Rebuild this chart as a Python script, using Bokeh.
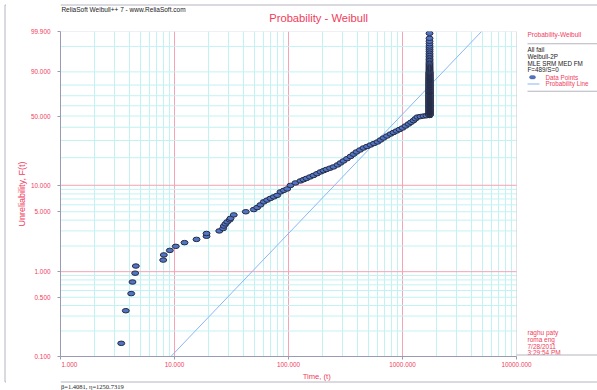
import numpy as np
from bokeh.plotting import figure
from bokeh.layouts import row, column
from bokeh.models import (FixedTicker, CustomJSTickFormatter, Grid, Label,
                          BoxAnnotation, Range1d, ColumnDataSource)
from bokeh.embed import file_html
from bokeh.resources import INLINE
from bokeh.core.properties import value

# ---------------- data ----------------
# isolated early failures: time, unreliability F(t) in %
sparse_t = [3.41, 3.74, 4.17, 4.28, 4.52, 4.58, 7.96, 8.06, 9.10, 10.26, 12.24, 15.6,
            19.1, 19.1, 24.7, 26.7, 27.1, 28.0, 29.0, 30.5, 31.0, 33.1, 42.2, 49.6]
sparse_F = [0.143, 0.347, 0.552, 0.756, 0.960, 1.165, 1.369, 1.573, 1.778, 1.982, 2.19, 2.39,
            2.60, 2.80, 3.00, 3.20, 3.42, 3.62, 3.82, 4.03, 4.20, 4.60, 5.00, 5.30]
# dense part of the curve
curve_t = [53.1, 56.8, 60.7, 64.95, 69.5, 74.4, 79.6, 85.1, 91.0, 97.4, 104.1, 115.2,
           127.4, 135.4, 143.9, 154.4, 165.7, 177.9, 190.9, 202.8, 215.4, 231.2, 248.1,
           269.1, 285.9, 303.7, 326.0, 349.9, 371.7, 394.9, 423.8, 454.9, 488.3, 524.1,
           562.4, 603.6, 641.3, 681.4, 731.3, 784.8, 834.0, 886.2, 941.4, 1000.0, 1062.5,
           1129.0, 1187.5, 1249.0, 1300.0, 1354.0, 1438.8, 1529.0, 1624.5]
curve_F = [5.59, 6.00, 6.50, 6.80, 7.12, 7.40, 7.70, 8.43, 8.77, 9.11, 9.97, 10.63,
           11.19, 11.56, 11.94, 12.39, 12.87, 13.45, 14.07, 14.51, 14.97, 15.45, 15.94,
           16.75, 17.59, 18.48, 19.52, 20.62, 21.77, 22.96, 24.07, 25.23, 26.12, 27.05,
           28.00, 28.98, 30.32, 31.71, 33.14, 34.63, 35.78, 36.95, 38.14, 39.37, 41.03,
           42.74, 44.27, 45.84, 47.43, 49.05, 49.51, 49.98, 50.30]
# the large group of failures at one time (about half of the 489 units)
stack_time = 1726.0
stack_F = [50.5, 50.75,
           51, 51.25, 51.5, 51.75, 52, 52.25, 52.5, 52.75, 53, 53.25, 53.5, 53.75,
           54, 54.25, 54.5, 54.75, 55, 55.25, 55.5, 55.75, 56, 56.25, 56.5, 56.75,
           57, 57.25, 57.5, 57.75, 58, 58.25, 58.5, 58.75, 59, 59.25, 59.5, 59.75,
           60, 60.25, 60.5, 60.75, 61, 61.25, 61.5, 61.75, 62, 62.25, 62.5, 62.75,
           63, 63.25, 63.5, 63.75, 64, 64.25, 64.5, 64.75, 65, 65.25, 65.5, 65.75,
           66, 66.25, 66.5, 66.75, 67, 67.25, 67.5, 67.75, 68, 68.25, 68.5, 68.75,
           69, 69.25, 69.5, 69.75, 70, 70.25, 70.5, 70.75, 71, 71.25, 71.5, 71.75,
           72, 72.25, 72.5, 72.75, 73, 73.25, 73.5, 73.75, 74, 74.25, 74.5, 74.75,
           75, 75.25, 75.5, 75.75, 76, 76.25, 76.5, 76.75, 77, 77.25, 77.5, 77.75,
           78, 78.25, 78.5, 78.75, 79, 79.25, 79.5, 79.75, 80, 80.25, 80.5, 80.75,
           81, 81.25, 81.5, 81.75, 82, 82.25, 82.5, 82.75, 83, 83.25, 83.5, 83.75,
           84, 84.25, 84.5, 84.75, 85, 85.25, 85.5, 85.75, 86, 86.25, 86.5, 86.75,
           87, 87.25, 87.5, 87.75, 88, 88.25, 88.5, 88.75, 89, 89.25, 89.5, 89.75,
           90, 90.5, 91, 91.5, 92, 92.5, 93, 93.5, 94, 94.5, 95, 95.5, 96, 96.5,
           97, 97.4, 97.8, 98.2, 98.5, 98.8, 99.05, 99.3, 99.5, 99.68, 99.86]
# fitted probability line (beta=1.4081, eta=1250.7319), end points
line_t = [9.3, 4934.0]
line_F = [0.1, 99.9]

x_ticks = [1, 10, 100, 1000, 10000]
x_major_grid = [10, 100, 1000]
x_minor_grid = [m * d for d in (1, 10, 100, 1000) for m in range(2, 10)]
y_ticks_F = [0.1, 0.5, 1, 5, 10, 50, 90, 99.9]
y_major_grid_F = [1, 10]
y_minor_grid_F = [0.2, 0.3, 0.4, 0.5, 0.6, 0.7, 0.8, 0.9, 2, 3, 4, 5, 6, 7, 8, 9,
                  20, 30, 40, 50, 60, 70, 80, 90, 99]

header_text = "ReliaSoft Weibull++ 7 - www.ReliaSoft.com"
title_text = "Probability - Weibull"
x_title = "Time, (t)"
y_title = "Unreliability, F(t)"
legend_title = "Probability-Weibull"
legend_lines = ["All fail", "Weibull-2P", "MLE SRM MED FM", "F=489/S=0"]
legend_items = ["Data Points", "Probability Line"]
user_lines = ["raghu paty", "roma eng", "7/28/2011", "3:29:54 PM"]
footer_text = "\u03b2=1.4081, \u03b7=1250.7319"


def wb(f):
    """Weibull probability-paper transform of F given in percent."""
    return float(np.log(-np.log(1.0 - f / 100.0)))


def wbv(fs):
    return [wb(f) for f in fs]


RED = "#ef3d5b"
PINK = "#f6a3b4"
CYAN = "#c2f2f2"
AXC = "#9a9ab2"
BORDER = "#b4b4c0"
BLUE = "#5274c4"
EDGE = "#252c44"
LINEBLUE = "#8ab6f5"
FONT = "Liberation Sans"

PAGE_W, PAGE_H = 597, 390
FL, FT, FR, FB = 60, 31, 516, 356      # plot box in page pixels
STRIP = 6
TOP_H = 26
FOOT_H = 20
MAIN_H = PAGE_H - TOP_H - FOOT_H       # 344
MAIN_W = PAGE_W - STRIP
PX_DEC = (FR - FL) / 4.0
x_end = 10 ** ((PAGE_W - FL) / PX_DEC)


def common(f):
    f.background_fill_color = "white"
    f.border_fill_color = "white"


# ---------------- main plot ----------------
p = figure(width=MAIN_W, height=MAIN_H, x_axis_type="log",
           x_range=Range1d(1, x_end), y_range=Range1d(wb(0.1), wb(99.9)),
           output_backend="svg", toolbar_location=None, title=None,
           min_border_left=FL - STRIP, min_border_right=0,
           min_border_top=FT - TOP_H, min_border_bottom=TOP_H + MAIN_H - FB)
common(p)
p.outline_line_color = None
p.center = [r for r in p.center if not isinstance(r, Grid)]

p.xaxis.ticker = FixedTicker(ticks=x_ticks, minor_ticks=[])
p.xaxis.formatter = CustomJSTickFormatter(
    code="var s = tick.toFixed(3); if (tick == 1) { s = '\\u2007\\u2007\\u2007\\u2007\\u2007' + s; } return s;")
p.xaxis.bounds = (1, 10000)
p.yaxis.ticker = FixedTicker(ticks=wbv(y_ticks_F), minor_ticks=[])
p.yaxis.formatter = CustomJSTickFormatter(
    code="return (100*(1-Math.exp(-Math.exp(tick)))).toFixed(3);")
for ax in (p.xaxis, p.yaxis):
    ax.axis_line_color = AXC
    ax.major_tick_line_color = AXC
    ax.major_tick_out = 3
    ax.major_tick_in = 0
    ax.minor_tick_line_color = None
    ax.major_label_text_color = RED
    ax.major_label_text_font_size = "6.4px"
    ax.major_label_text_font = FONT
p.xaxis.major_label_standoff = 1
p.yaxis.major_label_standoff = 7
p.yaxis.axis_label = y_title
p.yaxis.axis_label_text_color = RED
p.yaxis.axis_label_text_font = FONT
p.yaxis.axis_label_text_font_style = "normal"
p.yaxis.axis_label_text_font_size = "9px"
p.yaxis.axis_label_standoff = 1

# grids: vertical ones through Grid objects, horizontal ones bounded to the plot box
p.add_layout(Grid(dimension=0, ticker=FixedTicker(ticks=x_minor_grid),
                  grid_line_color=CYAN, grid_line_width=1))
p.add_layout(Grid(dimension=0, ticker=FixedTicker(ticks=x_major_grid),
                  grid_line_color=PINK, grid_line_width=1))
p.segment(x0=[x_ticks[0]] * len(y_minor_grid_F), x1=[x_ticks[-1]] * len(y_minor_grid_F),
          y0=wbv(y_minor_grid_F), y1=wbv(y_minor_grid_F), line_color=CYAN, line_width=1)
p.segment(x0=[x_ticks[0]] * len(y_major_grid_F), x1=[x_ticks[-1]] * len(y_major_grid_F),
          y0=wbv(y_major_grid_F), y1=wbv(y_major_grid_F), line_color=PINK, line_width=1)

# probability line
p.line(line_t, wbv(line_F), line_color=LINEBLUE, line_width=1)

# data points
pts_t = sparse_t + curve_t + [stack_time] * len(stack_F)
pts_F = sparse_F + curve_F + stack_F
src = ColumnDataSource(dict(t=pts_t, w=wbv(pts_F)))
p.ellipse(x="t", y="w", width=7, height=4.5, width_units="screen",
          height_units="screen", source=src, fill_color=BLUE,
          line_color=EDGE, line_width=1)

# plot box
p.add_layout(BoxAnnotation(left=x_ticks[0], right=x_ticks[-1], bottom=wb(y_ticks_F[0]),
                           top=wb(y_ticks_F[-1]), fill_alpha=0, fill_color=None,
                           line_color=AXC, line_width=1))


# ---- right-hand panel (inside the extended frame, screen units) ----
def sx(px):
    return px - FL


def sy(py):
    return FB - py


def label(px, py, text, color="#222222", size="6.3px"):
    p.add_layout(Label(x=sx(px), y=sy(py), x_units="screen", y_units="screen",
                       text=text, text_color=color, text_font=FONT,
                       text_font_size=size, text_align="left",
                       text_baseline="middle"))


def box(px0, px1, py0, py1, color, line=None, radius=None):
    b = BoxAnnotation(left=sx(px0), right=sx(px1), top=sy(py0), bottom=sy(py1),
                      left_units="screen", right_units="screen", top_units="screen",
                      bottom_units="screen", fill_color=color, fill_alpha=1,
                      line_color=line, line_width=0.8)
    if radius is not None:
        try:
            b.border_radius = radius
        except Exception:
            pass
    p.add_layout(b)


box(516.6, PAGE_W + 2, FT - 2, FB + 2, "white")        # clean panel background
label(527, 34, legend_title, color=RED, size="6.5px")
box(527, 597, 42.8, 43.8, BORDER)
for i, s in enumerate(legend_lines):
    label(527, 49.3 + 6.7 * i, s)
label(545, 76.7, legend_items[0], color=RED)
label(545, 83.4, legend_items[1], color=RED)
box(529, 535, 75, 78.5, BLUE, line=EDGE, radius=2)
box(527, 539, 83, 84, LINEBLUE)
box(527, 597, 90.3, 91.3, BORDER)
for i, s in enumerate(user_lines):
    label(527, 332.3 + 6.6 * i, s, color=RED, size="6.5px")
box(516, 597, 354, 355, BORDER)


# ---------------- header, footer, left strip ----------------
def pix(w, h, x0, y0):
    f = figure(width=w, height=h, x_range=Range1d(x0, x0 + w),
               y_range=Range1d(y0 + h, y0), min_border=0,
               toolbar_location=None, output_backend="svg",
               x_axis_location=None, y_axis_location=None, title=None)
    common(f)
    f.outline_line_color = None
    f.grid.visible = False
    return f


def ptext(f, x, y, text, size, color, align="left", font=FONT):
    f.text(x=[x], y=[y], text=[text], text_font=value(font),
           text_font_size=value(size), text_color=color,
           text_align=align, text_baseline="middle")


top = pix(MAIN_W, TOP_H, STRIP, 0)
top.segment(x0=[STRIP], x1=[PAGE_W], y0=[4.5], y1=[4.5], line_color=BORDER, line_width=1)
ptext(top, 7, 8.6, header_text, "6.5px", "#1a1a1a")
ptext(top, (FL + FR) / 2.0 + 2, 17.5, title_text, "11.2px", RED, align="center")

foot_y0 = PAGE_H - FOOT_H
foot = pix(MAIN_W, FOOT_H, STRIP, foot_y0)
ptext(foot, (FL + FR) / 2.0, 375.5, x_title, "7.6px", RED, align="center")
foot.segment(x0=[STRIP], x1=[PAGE_W], y0=[381.5], y1=[381.5], line_color=BORDER,
             line_width=1)
ptext(foot, 6.5, 385.5, footer_text, "6.5px", "#1a1a1a", font="Liberation Serif")

strip = pix(STRIP, PAGE_H, 0, 0)
strip.segment(x0=[4.5, 4.5, 4.5], x1=[4.5, STRIP, STRIP], y0=[4.5, 4.5, 381.5],
              y1=[381.5, 4.5, 381.5], line_color=BORDER, line_width=1)

layout = row(strip, column(top, p, foot))

with open("out.html", "w") as f:
    f.write(file_html(layout, INLINE))
